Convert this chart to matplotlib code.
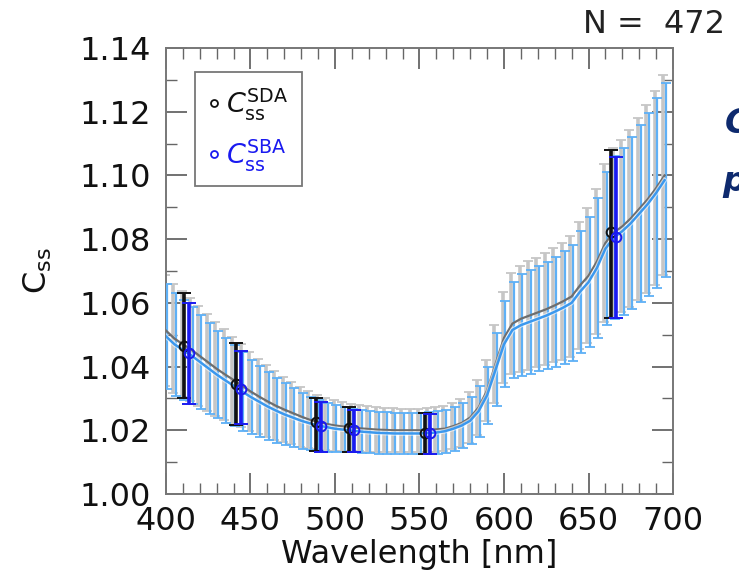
import numpy as np
import matplotlib
matplotlib.use("Agg")
import matplotlib.pyplot as plt
from matplotlib.lines import Line2D
from matplotlib.ticker import MultipleLocator

# dense spectrum, every 5 nm
wavelength = [400, 405, 410, 415, 420, 425, 430, 435, 440, 445,
              450, 455, 460, 465, 470, 475, 480, 485, 490, 495,
              500, 505, 510, 515, 520, 525, 530, 535, 540, 545,
              550, 555, 560, 565, 570, 575, 580, 585, 590, 595,
              600, 605, 610, 615, 620, 625, 630, 635, 640, 645,
              650, 655, 660, 665, 670, 675, 680, 685, 690, 695]

sba_mean = [1.0495, 1.0470, 1.0452, 1.0435, 1.0415, 1.0395, 1.0375, 1.0357, 1.0340, 1.0322,
            1.0305, 1.0290, 1.0275, 1.0262, 1.0250, 1.0240, 1.0230, 1.0222, 1.0215, 1.0210,
            1.0205, 1.0202, 1.0199, 1.0196, 1.0194, 1.0192, 1.0191, 1.0190, 1.0190, 1.0190,
            1.0190, 1.0191, 1.0193, 1.0197, 1.0205, 1.0215, 1.0230, 1.0260, 1.0310, 1.0390,
            1.0470, 1.0515, 1.0530, 1.0540, 1.0550, 1.0560, 1.0572, 1.0585, 1.0600, 1.0635,
            1.0665, 1.0710, 1.0770, 1.0805, 1.0825, 1.0850, 1.0880, 1.0910, 1.0945, 1.0985]
sba_err = [0.0165, 0.0162, 0.0158, 0.0153, 0.0148, 0.0143, 0.0138, 0.0133, 0.0128, 0.0123,
           0.0117, 0.0112, 0.0107, 0.0102, 0.0097, 0.0092, 0.0088, 0.0084, 0.0080, 0.0077,
           0.0074, 0.0071, 0.0068, 0.0067, 0.0066, 0.0065, 0.0065, 0.0064, 0.0064, 0.0064,
           0.0064, 0.0065, 0.0066, 0.0067, 0.0069, 0.0071, 0.0074, 0.0080, 0.0090, 0.0115,
           0.0135, 0.0150, 0.0160, 0.0163, 0.0165, 0.0168, 0.0172, 0.0177, 0.0183, 0.0192,
           0.0205, 0.0220, 0.0240, 0.0255, 0.0262, 0.0270, 0.0278, 0.0287, 0.0297, 0.0305]

sda_mean = [1.0513, 1.0488, 1.0470, 1.0453, 1.0433, 1.0413, 1.0393, 1.0375, 1.0358, 1.0340,
            1.0322, 1.0306, 1.0291, 1.0277, 1.0265, 1.0254, 1.0243, 1.0233, 1.0226, 1.0220,
            1.0215, 1.0212, 1.0209, 1.0206, 1.0204, 1.0202, 1.0201, 1.0200, 1.0200, 1.0200,
            1.0200, 1.0201, 1.0203, 1.0205, 1.0213, 1.0223, 1.0240, 1.0272, 1.0325, 1.0408,
            1.0490, 1.0535, 1.0550, 1.0560, 1.0570, 1.0580, 1.0592, 1.0605, 1.0620, 1.0655,
            1.0685, 1.0730, 1.0788, 1.0821, 1.0840, 1.0865, 1.0895, 1.0925, 1.0960, 1.1000]
sda_err = [0.0175, 0.0171, 0.0167, 0.0162, 0.0157, 0.0152, 0.0147, 0.0142, 0.0136, 0.0130,
           0.0124, 0.0118, 0.0113, 0.0108, 0.0103, 0.0098, 0.0094, 0.0090, 0.0086, 0.0082,
           0.0079, 0.0076, 0.0073, 0.0072, 0.0071, 0.0070, 0.0069, 0.0069, 0.0068, 0.0068,
           0.0068, 0.0069, 0.0070, 0.0071, 0.0073, 0.0076, 0.0079, 0.0086, 0.0097, 0.0122,
           0.0143, 0.0158, 0.0167, 0.0170, 0.0172, 0.0175, 0.0179, 0.0184, 0.0190, 0.0199,
           0.0212, 0.0228, 0.0248, 0.0264, 0.0270, 0.0278, 0.0286, 0.0295, 0.0305, 0.0314]

# multispectral bands
bands = [412, 443, 490, 510, 555, 665]
sda_band = [1.0463, 1.0346, 1.0227, 1.0208, 1.0192, 1.0821]
sda_band_lo = [1.0300, 1.0217, 1.0135, 1.0132, 1.0126, 1.0554]
sda_band_hi = [1.0630, 1.0475, 1.0302, 1.0274, 1.0255, 1.1080]
sba_band = [1.0444, 1.0330, 1.0214, 1.0200, 1.0190, 1.0806]
sba_band_lo = [1.0283, 1.0220, 1.0132, 1.0132, 1.0126, 1.0554]
sba_band_hi = [1.0600, 1.0450, 1.0290, 1.0265, 1.0250, 1.1057]

n_obs = 472

wl = np.array(wavelength, dtype=float)
fig = plt.figure(figsize=(7.39, 5.75), dpi=100)
ax = fig.add_axes([0.2246, 0.1409, 0.6861, 0.7756])

# dense error bars (gray = SDA, light blue = SBA)
eb = ax.errorbar(wl - 0.8, sda_mean, yerr=sda_err, fmt="none", ecolor="#c6c6c6",
                 elinewidth=2.6, capsize=3.6, capthick=1.3, zorder=2)
for cl in eb[1]:
    cl.set_color("#8c8c8c")
eb = ax.errorbar(wl + 0.8, sba_mean, yerr=sba_err, fmt="none", ecolor="#5eb0f6",
                 elinewidth=1.6, capsize=3.6, capthick=1.3, zorder=3)
for cl in eb[1]:
    cl.set_color("#58a8f2")

ax.plot(wl, sda_mean, color="#6e6e6e", lw=1.6, zorder=4)
ax.plot(wl, sba_mean, color="#ffffff", lw=3.4, alpha=0.6, zorder=4)
ax.plot(wl, sba_mean, color="#3b98ee", lw=1.8, zorder=5)

# highlighted band points
b = np.array(bands, dtype=float)
sda_b = np.array(sda_band)
sba_b = np.array(sba_band)
ax.errorbar(b - 1.5, sda_b, yerr=[sda_b - np.array(sda_band_lo), np.array(sda_band_hi) - sda_b],
            fmt="o", color="#111111", mfc="none", mec="#111111", ms=7, mew=1.4,
            elinewidth=2.6, capsize=5, capthick=2.4, zorder=6)
ax.errorbar(b + 1.5, sba_b, yerr=[sba_b - np.array(sba_band_lo), np.array(sba_band_hi) - sba_b],
            fmt="o", color="#1a1af0", mfc="none", mec="#1a1af0", ms=7, mew=1.4,
            elinewidth=2.6, capsize=5, capthick=2.4, zorder=7)

ax.set_xlim(400, 700)
ax.set_ylim(1.00, 1.14)
ax.xaxis.set_major_locator(MultipleLocator(50))
ax.xaxis.set_minor_locator(MultipleLocator(10))
ax.yaxis.set_major_locator(MultipleLocator(0.02))
ax.yaxis.set_minor_locator(MultipleLocator(0.01))
ax.yaxis.set_major_formatter(plt.FormatStrFormatter("%.2f"))
ax.tick_params(which="both", direction="in", top=True, right=True, color="#666666",
               labelsize=23, labelcolor="#111111")
ax.tick_params(which="major", length=15, width=1.3)
ax.tick_params(which="minor", length=8, width=1.0)
ax.tick_params(axis="y", which="major", pad=11)
ax.tick_params(axis="x", which="major", pad=9)
for sp in ax.spines.values():
    sp.set_color("#777777")
    sp.set_linewidth(1.4)

ax.set_xlabel("Wavelength [nm]", fontsize=23, color="#111111", labelpad=1)
ax.set_ylabel("C$_{\\rm ss}$", fontsize=23, color="#111111", labelpad=18)

handles = [Line2D([], [], ls="none", marker="o", ms=5, mfc="none", mec="#111111", mew=1.3),
           Line2D([], [], ls="none", marker="o", ms=5, mfc="none", mec="#1a1af0", mew=1.3)]
leg = ax.legend(handles, ["$C_{\\rm ss}^{\\rm SDA}$", "$C_{\\rm ss}^{\\rm SBA}$"],
                loc="upper left", bbox_to_anchor=(0.057, 0.946), borderaxespad=0,
                fontsize=19.5, frameon=True, fancybox=False, handlelength=0.4,
                handletextpad=0.25, labelspacing=0.55, borderpad=0.5,
                labelcolor=["#111111", "#1a1af0"])
leg.get_frame().set_edgecolor("#555555")
leg.get_frame().set_linewidth(1.3)

fig.text(0.789, 0.957, f"N =  {n_obs}", fontsize=23, color="#222222", ha="left", va="center")

# text of the slide, cut at the right edge
fig.text(0.981, 0.785, "C", fontsize=24, fontweight="bold", style="italic",
         color="#0e2a6e", ha="left", va="center")
fig.text(0.978, 0.685, "p", fontsize=24, fontweight="bold", style="italic",
         color="#0e2a6e", ha="left", va="center")

fig.savefig("out.png", dpi=100)
